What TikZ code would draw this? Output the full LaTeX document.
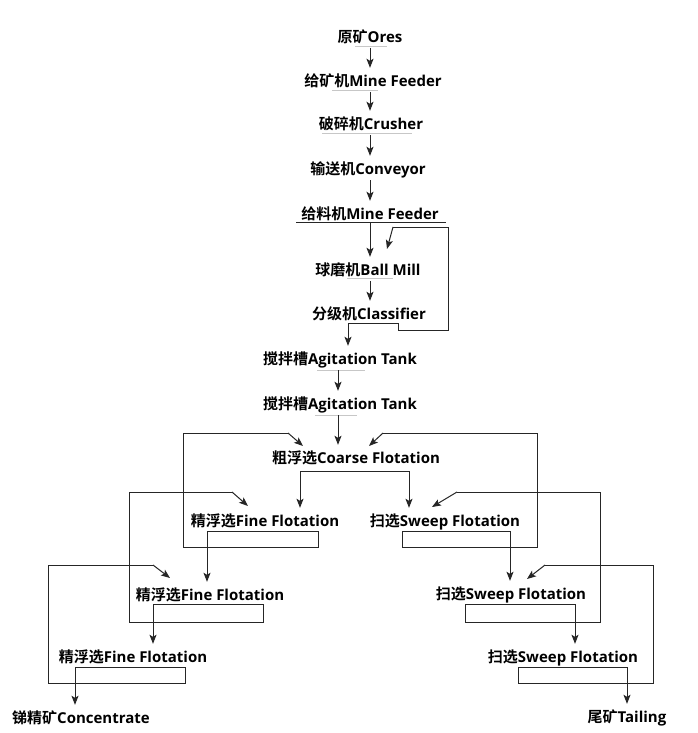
\documentclass[tikz,border=0pt]{standalone}
\usepackage{fontspec}
\newfontfamily\cjkf{Noto Sans CJK SC}[BoldFont={Noto Sans CJK SC Bold}]
\newfontfamily\latf{Open Sans}
\usetikzlibrary{arrows.meta}
\newcommand\lbl[2]{{\cjkf\bfseries #1}{\latf\bfseries #2}}
\begin{document}
\begin{tikzpicture}[x=1pt,y=-1pt,
  lab/.style={inner sep=0pt, minimum height=24pt, text height=13pt, text depth=0pt, font=\fontsize{15pt}{17pt}\selectfont},
  ln/.style={line width=1pt, draw=black!85},
  arr/.style={ln, -{Stealth[length=9pt,width=7pt,inset=2pt]}},
  faint/.style={line width=0.8pt, draw=black!22}]
\useasboundingbox (0,0) rectangle (697,733);
\fill[white] (0,0) rectangle (697,733);
% labels
\node[lab] (ores) at (370,36) {\lbl{原矿}{Ores}};
\node[lab] (mfa) at (373,80) {\lbl{给矿机}{Mine Feeder}};
\node[lab] (crush) at (371,123) {\lbl{破碎机}{Crusher}};
\node[lab] (conv) at (368,168) {\lbl{输送机}{Conveyor}};
\node[lab] (mfb) at (370,213) {\lbl{给料机}{Mine Feeder}};
\node[lab] (mill) at (368,269) {\lbl{球磨机}{Ball Mill}};
\node[lab] (cls) at (369,313) {\lbl{分级机}{Classifier}};
\node[lab] (aga) at (340,358) {\lbl{搅拌槽}{Agitation Tank}};
\node[lab] (agb) at (340,403) {\lbl{搅拌槽}{Agitation Tank}};
\node[lab] (coarse) at (356,457) {\lbl{粗浮选}{Coarse Flotation}};
\node[lab] (fina) at (265,520) {\lbl{精浮选}{Fine Flotation}};
\node[lab] (swpa) at (445,520) {\lbl{扫选}{Sweep Flotation}};
\node[lab] (finb) at (210,594) {\lbl{精浮选}{Fine Flotation}};
\node[lab] (swpb) at (511,593) {\lbl{扫选}{Sweep Flotation}};
\node[lab] (finc) at (133,656) {\lbl{精浮选}{Fine Flotation}};
\node[lab] (swpc) at (563,656) {\lbl{扫选}{Sweep Flotation}};
\node[lab] (conc) at (81,717) {\lbl{锑精矿}{Concentrate}};
\node[lab] (tail) at (627,716) {\lbl{尾矿}{Tailing}};
% faint underlines
\draw[faint] (355,46) -- (387,46);
\draw[faint] (332,90) -- (378,90);
\draw[faint] (322,133) -- (412,133);
\draw[faint] (347,278) -- (393,278);
\draw[faint] (317,370) -- (365,370);
\draw[faint] (315,415) -- (357,415);
% coordinates
\coordinate (c1) at (370,48);
\coordinate (c2) at (370,92);
\coordinate (c3) at (370,135);
\coordinate (c4) at (370,180);
\coordinate (fdl) at (296,222);
\coordinate (fdr) at (446,222);
\coordinate (c5) at (370,222);
\coordinate (c6) at (370,281);
\coordinate (cl1) at (348,323);
\coordinate (cl2) at (398,323);
\coordinate (cl3) at (398,330);
\coordinate (cl4) at (448,330);
\coordinate (cl5) at (448,227);
\coordinate (cl6) at (393,227);
\coordinate (cl7) at (387,249);
\coordinate (c7) at (338,370);
\coordinate (c8) at (338,415);
% main column
\draw[arr] (c1) -- (c1 |- mfa.north);
\draw[arr] (c2) -- (c2 |- crush.north);
\draw[arr] (c3) -- (c3 |- conv.north);
\draw[arr] (c4) -- (c4 |- mfb.north);
\draw[ln] (fdl) -- (fdr);
\draw[arr] (c5) -- (c5 |- mill.north);
\draw[arr] (c6) -- (c6 |- cls.north);
\draw[ln] (cl1) -- (cl2) -- (cl3) -- (cl4) -- (cl5) -- (cl6);
\draw[arr] (cl6) -- (cl7);
\draw[arr] (cl1) -- (cl1 |- aga.north);
\draw[arr] (c7) -- (c7 |- agb.north);
\draw[arr] (c8) -- (c8 |- coarse.north);
% coarse split
\coordinate (s1) at (300,471);
\coordinate (s2) at (409,471);
\draw[ln] (s1) -- (s2);
\draw[arr] (s1) -- (s1 |- fina.north);
\draw[arr] (s2) -- (s2 |- swpa.north);
% fine 1 loop
\coordinate (fa1) at (207,531);
\coordinate (fa2) at (318,531);
\coordinate (fa3) at (318,547);
\coordinate (fa4) at (183,547);
\coordinate (fa5) at (183,433);
\coordinate (fa6) at (288,433);
\coordinate (fa7) at (303,446);
\draw[ln] (fa1) -- (fa2) -- (fa3) -- (fa4) -- (fa5) -- (fa6);
\draw[arr] (fa6) -- (fa7);
\draw[arr] (fa1) -- (fa1 |- finb.north);
% sweep 1 loop
\coordinate (sa1) at (510,531);
\coordinate (sa2) at (402,531);
\coordinate (sa3) at (402,547);
\coordinate (sa4) at (537,547);
\coordinate (sa5) at (537,433);
\coordinate (sa6) at (383,433);
\coordinate (sa7) at (369,446);
\draw[ln] (sa1) -- (sa2) -- (sa3) -- (sa4) -- (sa5) -- (sa6);
\draw[arr] (sa6) -- (sa7);
\draw[arr] (sa1) -- (sa1 |- swpb.north);
% fine 2 loop
\coordinate (fb1) at (153,604);
\coordinate (fb2) at (263,604);
\coordinate (fb3) at (263,622);
\coordinate (fb4) at (129,622);
\coordinate (fb5) at (129,492);
\coordinate (fb6) at (232,492);
\coordinate (fb7) at (248,506);
\draw[ln] (fb1) -- (fb2) -- (fb3) -- (fb4) -- (fb5) -- (fb6);
\draw[arr] (fb6) -- (fb7);
\draw[arr] (fb1) -- (fb1 |- finc.north);
% sweep 2 loop
\coordinate (sb1) at (575,604);
\coordinate (sb2) at (465,604);
\coordinate (sb3) at (465,622);
\coordinate (sb4) at (600,622);
\coordinate (sb5) at (600,492);
\coordinate (sb6) at (457,492);
\coordinate (sb7) at (432,507);
\draw[ln] (sb1) -- (sb2) -- (sb3) -- (sb4) -- (sb5) -- (sb6);
\draw[arr] (sb6) -- (sb7);
\draw[arr] (sb1) -- (sb1 |- swpc.north);
% fine 3 loop
\coordinate (fc1) at (75,667);
\coordinate (fc2) at (185,667);
\coordinate (fc3) at (185,683);
\coordinate (fc4) at (48,683);
\coordinate (fc5) at (48,565);
\coordinate (fc6) at (153,565);
\coordinate (fc7) at (170,578);
\draw[ln] (fc1) -- (fc2) -- (fc3) -- (fc4) -- (fc5) -- (fc6);
\draw[arr] (fc6) -- (fc7);
\draw[arr] (fc1) -- (fc1 |- conc.north);
% sweep 3 loop
\coordinate (sc1) at (627,667);
\coordinate (sc2) at (518,667);
\coordinate (sc3) at (518,683);
\coordinate (sc4) at (653,683);
\coordinate (sc5) at (653,565);
\coordinate (sc6) at (545,565);
\coordinate (sc7) at (527,579);
\draw[ln] (sc1) -- (sc2) -- (sc3) -- (sc4) -- (sc5) -- (sc6);
\draw[arr] (sc6) -- (sc7);
\draw[arr] (sc1) -- (sc1 |- tail.north);
\end{tikzpicture}
\end{document}
